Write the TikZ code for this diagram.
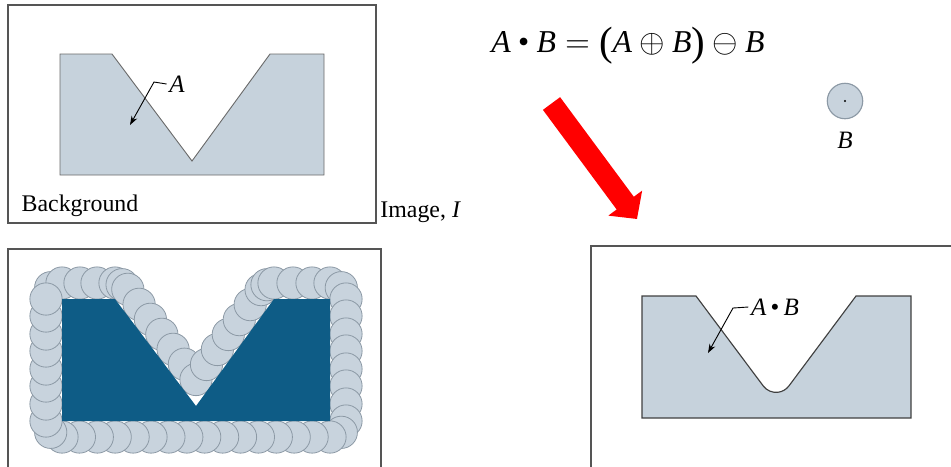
\documentclass[tikz,border=0pt]{standalone}
\usepackage{amsmath}
\usepackage{fontspec}
\setmainfont{Liberation Serif}
\usepackage{tikz}
\usetikzlibrary{arrows.meta,calc,positioning}
\definecolor{morFill}{HTML}{C6D2DC}
\definecolor{morBall}{HTML}{C8D3DD}
\definecolor{morBallLine}{HTML}{8C99A5}
\definecolor{morDeep}{HTML}{0E5C86}
\definecolor{morFrame}{HTML}{555555}
\definecolor{morEdge}{HTML}{6A6A6A}
\newcommand{\morclose}{\mathbin{\text{•}}}
\newcommand{\morparen}[1]{\text{\raisebox{-0.12em}{\fontsize{18}{18}\selectfont #1}}}
\tikzset{
  morframe/.style={draw=morFrame,line width=0.6pt},
  morset/.style={fill=morFill,draw=morEdge,line width=0.4pt},
  morclosed/.style={fill=morFill,draw=black!75,line width=0.5pt},
  morball/.style={fill=morBall,draw=morBallLine,line width=0.35pt},
  morleader/.style={-{Stealth[length=4pt,width=2.8pt]},line width=0.4pt},
  morbig/.style={draw=red,line width=9.4pt,-{Triangle[length=8.7pt,width=18pt]}},
  morlabel/.style={font=\fontsize{11}{13}\selectfont,inner sep=1pt},
  mortext/.style={font=\fontsize{10.5}{12}\selectfont,inner sep=0pt}
}

\begin{document}
\begin{tikzpicture}[x=0.44pt,y=-0.44pt]
    \useasboundingbox (0,0) rectangle (951,466);

    % image I with the set A
    \begin{scope}
      \draw[morframe] (8,5) rectangle (376,223);
      \draw[morset] (60,54) -- (112,54) -- (192,161) -- (270,54)
        -- (324,54) -- (324,175) -- (60,175) -- cycle;
      \node[morlabel] (lblA) at (177,84) {\textit{A}};
      \coordinate (kneeA) at (154,82);
      \coordinate (tipA) at (130,125);
      \draw[morleader] (lblA.west) -- (kneeA) -- (tipA);
      \node[mortext] (bg) at (80,206) {Background};
      \node[mortext,anchor=south west] (img) at (380,223) {Image, \textit{I}};
    \end{scope}

    % closing formula and structuring element
    \node[font=\fontsize{14}{16}\selectfont,inner sep=1pt] (eqn) at (628,46)
      {$\textit{A}\morclose\textit{B}=\morparen{(}\textit{A}\oplus\textit{B}\morparen{)}\ominus\textit{B}$};
    \draw[morball,line width=0.5pt] (845,101) circle[radius=7.8pt];
    \fill (845,101) circle[radius=0.5pt];
    \node[morlabel] (lblB) at (845,140) {\textit{B}};
    \coordinate (arrS) at (551.5,103.5);
    \coordinate (arrE) at (637,219);
    \draw[morbig] (arrS) -- (arrE);

    % dilation: B rolled round the outside of A
    \begin{scope}
      \draw[morframe] (8,470) -- (8,249) -- (381,249) -- (381,470);
      \foreach \cx/\cy in {50.7/287.7,62/283,80/283,97/283,115/283,
          122.1/284.7,127.8/289.3,139.1/304.3,150.4/319.3,161.8/334.3,
          173.1/349.3,184.4/364.2,196/379.5,206.5/364.5,217.4/349.5,
          228.3/334.5,239.3/319.6,250.2/304.6,261.1/289.6,267/284.7,
          274/283,293/283,312/283,330/283,341.3/287.7,
          346/299,346/316,346/334,346/351,346/369,346/386,346/404,346/421,
          341.3/432.3,330/437,312.1/437,294.2/437,276.3/437,258.4/437,
          240.5/437,222.6/437,204.7/437,186.8/437,168.9/437,151/437,
          133.1/437,115.2/437,97.3/437,79.4/437,62/437,50.7/432.3,
          46/421,46/404,46/386,46/369,46/351,46/334,46/316,46/299}
        \draw[morball] (\cx,\cy) circle[radius=7.1pt];
      \fill[morDeep] (62,299) -- (115,299) -- (196,406) -- (274,299)
        -- (330,299) -- (330,421) -- (62,421) -- cycle;
    \end{scope}

    % result of the closing
    \begin{scope}
      \draw[morframe] (951,246) -- (591,246) -- (591,470);
      \draw[morclosed] (642,296) -- (696,296) -- (763.3,386)
        arc[start angle=217,end angle=323,radius=7.04pt]
        -- (856,296) -- (911,296) -- (911,418) -- (642,418) -- cycle;
      \node[morlabel] (lblAB) at (775,307)
        {\textit{A}\,•\,\textit{B}};
      \coordinate (kneeAB) at (733,308);
      \coordinate (tipAB) at (708,353);
      \draw[morleader] (lblAB.west) -- (kneeAB) -- (tipAB);
    \end{scope}
  \end{tikzpicture}
\end{document}
